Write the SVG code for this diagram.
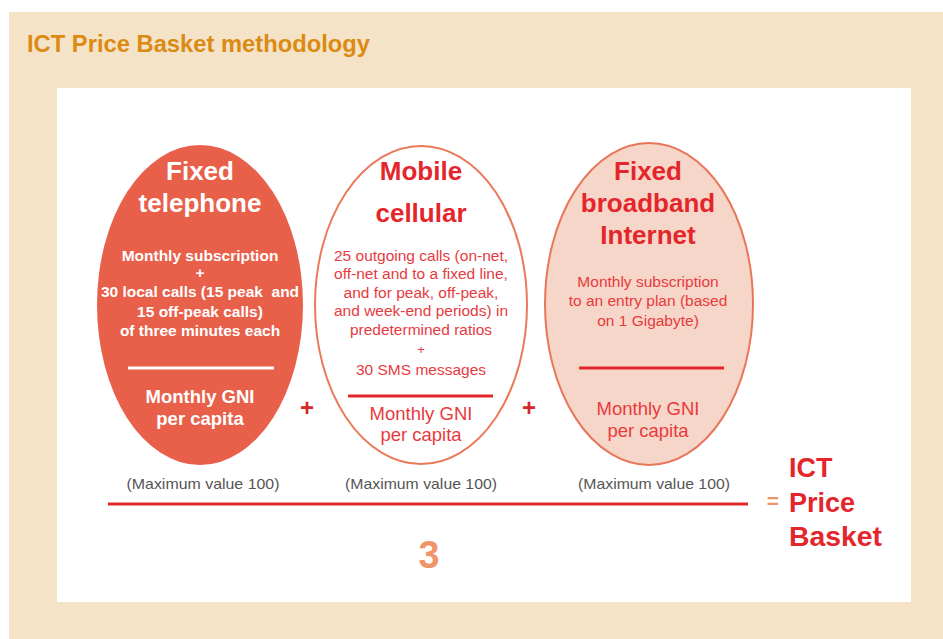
<svg xmlns="http://www.w3.org/2000/svg" width="943" height="639" viewBox="0 0 943 639">
<style>
text{font-family:"Liberation Sans",Arial,sans-serif;text-anchor:middle}
.h{font-size:26px;font-weight:bold}
.wb{fill:#fff;font-weight:bold;font-size:15.5px}
.r{fill:#E4262C}
.b{font-size:15.5px;fill:#E83A3E}
.g{font-size:18.5px}
.mx{font-size:15px;fill:#555}
.plus{font-size:24px;font-weight:bold;fill:#D42828}
</style>
<rect x="0" y="0" width="943" height="639" fill="#fff"/>
<rect x="9" y="12" width="934" height="627" fill="#F5E3C8"/>
<text x="27" y="52" style="text-anchor:start;font-size:23px;font-weight:bold;fill:#DB8A12" textLength="343" lengthAdjust="spacingAndGlyphs">ICT Price Basket methodology</text>
<rect x="57" y="88" width="854" height="514" fill="#fff"/>

<g id="fixed-telephone">
<ellipse cx="200" cy="305" rx="103" ry="160" fill="#E8604A"/>
<text class="h" x="200" y="180" fill="#fff">Fixed</text>
<text class="h" x="200" y="212" fill="#fff">telephone</text>
<text class="wb" x="200" y="261">Monthly subscription</text>
<text class="wb" x="200" y="278">+</text>
<text class="wb" x="200" y="297" xml:space="preserve">30 local calls (15 peak  and</text>
<text class="wb" x="200" y="317">15 off-peak calls)</text>
<text class="wb" x="200" y="336">of three minutes each</text>
<line x1="128" y1="368" x2="274" y2="368" stroke="#fff" stroke-width="3"/>
<text class="g" x="200" y="403" fill="#fff" font-weight="bold">Monthly GNI</text>
<text class="g" x="200" y="425" fill="#fff" font-weight="bold">per capita</text>
</g>

<g id="mobile-cellular">
<ellipse cx="421" cy="305" rx="106" ry="159" fill="#fff" stroke="#EB7A5A" stroke-width="2"/>
<text class="h r" x="421" y="180">Mobile</text>
<text class="h r" x="421" y="222">cellular</text>
<text class="b" x="421" y="261">25 outgoing calls (on-net,</text>
<text class="b" x="421" y="279">off-net and to a fixed line,</text>
<text class="b" x="421" y="298">and for peak, off-peak,</text>
<text class="b" x="421" y="316">and week-end periods) in</text>
<text class="b" x="421" y="335">predetermined ratios</text>
<text class="b" x="421" y="354" style="font-size:13px">+</text>
<text class="b" x="421" y="375">30 SMS messages</text>
<line x1="348" y1="396" x2="493" y2="396" stroke="#E4262C" stroke-width="3"/>
<text class="g" x="421" y="420" fill="#E83A3E">Monthly GNI</text>
<text class="g" x="421" y="441" fill="#E83A3E">per capita</text>
</g>

<g id="fixed-broadband">
<ellipse cx="649" cy="304" rx="104" ry="161" fill="#F6D6C8" stroke="#E8765A" stroke-width="2"/>
<text class="h r" x="648" y="180">Fixed</text>
<text class="h r" x="648" y="212">broadband</text>
<text class="h r" x="648" y="244">Internet</text>
<text class="b" x="648" y="287">Monthly subscription</text>
<text class="b" x="648" y="306">to an entry plan (based</text>
<text class="b" x="648" y="326">on 1 Gigabyte)</text>
<line x1="579" y1="368" x2="724" y2="368" stroke="#E4262C" stroke-width="3"/>
<text class="g" x="648" y="415" fill="#E83A3E">Monthly GNI</text>
<text class="g" x="648" y="437" fill="#E83A3E">per capita</text>
</g>

<g id="operators">
<text class="plus" x="307" y="416">+</text>
<text class="plus" x="529" y="416">+</text>
</g>

<g id="maxima">
<text class="mx" x="203" y="489" textLength="153" lengthAdjust="spacingAndGlyphs">(Maximum value 100)</text>
<text class="mx" x="421" y="489" textLength="152" lengthAdjust="spacingAndGlyphs">(Maximum value 100)</text>
<text class="mx" x="654" y="489" textLength="152" lengthAdjust="spacingAndGlyphs">(Maximum value 100)</text>
</g>

<g id="connectors">
<line x1="108" y1="504" x2="748" y2="504" stroke="#E4262C" stroke-width="3"/>
</g>

<g id="divisor">
<text x="429" y="568" style="font-size:38px;font-weight:bold;fill:#F0956A" textLength="21" lengthAdjust="spacingAndGlyphs">3</text>
</g>

<g id="result">
<text x="773" y="508" style="font-size:21px;font-weight:bold;fill:#F0956A">=</text>
<text class="r" x="789" y="477" style="text-anchor:start;font-size:27px;font-weight:bold">ICT</text>
<text class="r" x="789" y="512" style="text-anchor:start;font-size:27px;font-weight:bold">Price</text>
<text class="r" x="789" y="546" style="text-anchor:start;font-size:27px;font-weight:bold" textLength="93" lengthAdjust="spacingAndGlyphs">Basket</text>
</g>
</svg>
